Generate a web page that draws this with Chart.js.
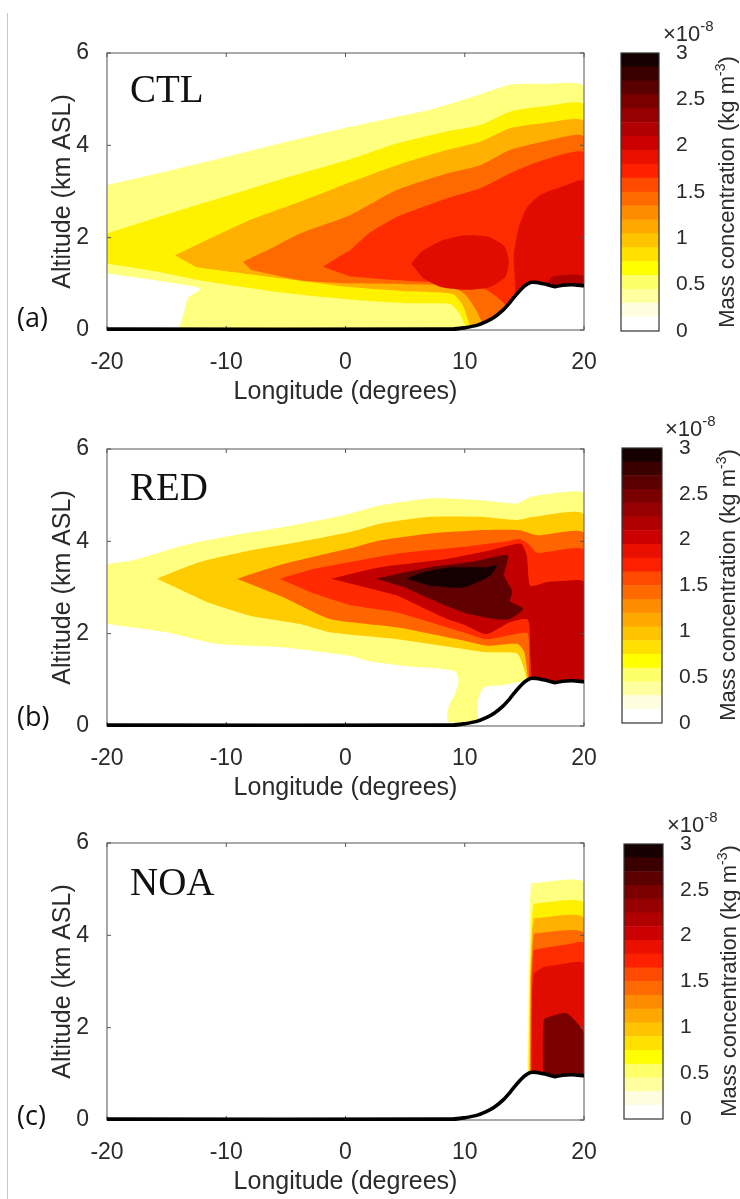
<!DOCTYPE html>
<html>
<head>
<meta charset="utf-8">
<script src="https://cdn.jsdelivr.net/npm/chart.js@4.4.1/dist/chart.umd.min.js"></script>
<style>
html,body{margin:0;padding:0;background:#fff;}
body{width:740px;height:1199px;position:relative;overflow:hidden;font-family:"Liberation Sans",Arial,sans-serif;color:#2b2b2b;}
canvas{position:absolute;}
#vline{position:absolute;left:7px;top:13px;width:1px;height:1186px;background:#c8c8c8;}
.plab{position:absolute;left:17px;font-family:"Open Sans",sans-serif;font-size:27px;line-height:27px;color:#111;}
.name{position:absolute;left:130px;font-family:"Liberation Serif","Times New Roman",serif;font-size:39px;line-height:39px;color:#111;}
.exp{position:absolute;font-size:22px;line-height:22px;white-space:nowrap;color:#2b2b2b;}
.exp sup{font-size:15px;line-height:0;vertical-align:10px;}
.cbt{position:absolute;width:300px;height:26px;line-height:26px;text-align:center;font-size:22px;white-space:nowrap;transform:rotate(-90deg);transform-origin:150px 13px;color:#2b2b2b;}
.cbt sup{font-size:14px;line-height:0;vertical-align:9px;}
</style>
</head>
<body>
<div id="vline"></div>

<canvas id="pa" width="600" height="420" style="left:0;top:0"></canvas>
<canvas id="pb" width="600" height="420" style="left:0;top:396px"></canvas>
<canvas id="pc" width="600" height="420" style="left:0;top:790px"></canvas>
<canvas id="ca" width="140" height="420" style="left:600px;top:0"></canvas>
<canvas id="cb" width="140" height="420" style="left:600px;top:395px"></canvas>
<canvas id="cc" width="140" height="420" style="left:600px;top:791px"></canvas>

<div class="plab" style="top:303px">(a)</div>
<div class="plab" style="top:702px">(b)</div>
<div class="plab" style="top:1101px">(c)</div>
<div class="name" style="top:69px">CTL</div>
<div class="name" style="top:467px">RED</div>
<div class="name" style="top:862px">NOA</div>
<div class="exp" style="left:663px;top:23px">×10<sup>-8</sup></div>
<div class="exp" style="left:665px;top:418px">×10<sup>-8</sup></div>
<div class="exp" style="left:667px;top:814px">×10<sup>-8</sup></div>
<div class="cbt" style="left:577px;top:179px">Mass concentration (kg m<sup>-3</sup>)</div>
<div class="cbt" style="left:578px;top:572px">Mass concentration (kg m<sup>-3</sup>)</div>
<div class="cbt" style="left:579px;top:968px">Mass concentration (kg m<sup>-3</sup>)</div>

<script>
// ---------- axes / tick labels ----------
const xTicks = [-20, -10, 0, 10, 20];
const yTicks = [0, 2, 4, 6];
const cbTicks = [0, 0.5, 1, 1.5, 2, 2.5, 3];
const cbTickLabels = ['0', '0.5', '1', '1.5', '2', '2.5', '3'];
const cbBounds = [0, 0.15, 0.3, 0.45, 0.6, 0.75, 0.9, 1.05, 1.2, 1.35, 1.5, 1.65, 1.8, 1.95, 2.1, 2.25, 2.4, 2.55, 2.7, 2.85, 3];
const cbColors = ['#ffffff','#fffde0','#ffffa0','#ffff6a','#ffff00','#ffe000','#ffc400','#ffa800','#ff8c00','#ff6a00',
                  '#ff4a00','#ff2000','#ea1000','#cc0000','#b00000','#960000','#7a0000','#5a0000','#3a0000','#160000'];

// ---------- terrain ----------
const terrainLon = [-20, 9, 10, 11, 11.8, 12.5, 13.2, 13.8, 14.4, 15, 15.5, 16, 16.6, 17.1, 17.6, 18.2, 19, 20];
const terrainAlt = [0.02, 0.02, 0.05, 0.1, 0.18, 0.28, 0.43, 0.6, 0.79, 0.95, 1.03, 1.03, 1.0, 0.97, 0.94, 0.97, 0.98, 0.96];

// ---------- CTL contour regions [longitude, altitude] ----------
const ctl1 = [[-20,3.14],[-15,3.44],[-10,3.75],[-5,4.07],[0.4,4.40],[4.3,4.62],[7.1,4.77],[10.7,5.05],[13.8,5.31],[16.6,5.33],[20,5.27],[20,0],[-13.8,0],[-13.5,0.43],[-13.2,0.7],[-12.2,0.87],[-12.4,0.93],[-16,1.08],[-20,1.23]];
const ctl2 = [[-20,2.09],[-15,2.5],[-10,2.9],[-5,3.3],[0.4,3.7],[4.3,4.04],[8.5,4.30],[11.3,4.44],[13.8,4.73],[16.6,4.84],[20,4.87],[20,0],[10.3,0],[10.0,0.12],[9.5,0.38],[8.8,0.56],[5,0.58],[0.4,0.66],[-5,0.8],[-12.3,1.08],[-16,1.27],[-20,1.44]];
const ctl3 = [[-14.3,1.62],[-12,1.9],[-8,2.38],[-4,2.76],[0.4,3.2],[4.3,3.57],[8.5,3.9],[11.3,4.08],[13.8,4.37],[16.6,4.48],[20,4.51],[20,0],[10.6,0],[10.3,0.2],[9.8,0.55],[9.0,0.78],[5,0.84],[0.4,0.93],[-6.6,1.16],[-12.5,1.36]];
const ctl4 = [[-8.6,1.48],[-6,1.8],[-3.8,2.09],[0.4,2.49],[4.3,3.03],[8.5,3.39],[11.3,3.57],[13.8,3.9],[16.6,4.08],[20,4.18],[20,0],[11.8,0],[11.5,0.15],[10.8,0.5],[10,0.78],[8.8,0.95],[5,0.99],[0.4,1.01],[-3.8,1.08],[-7.9,1.30]];
const ctl5 = [[-1.9,1.37],[-0.5,1.6],[0.4,1.73],[2,2.1],[4.3,2.45],[8.5,2.85],[11.3,3.07],[13.8,3.39],[16.6,3.68],[20,3.83],[20,0],[13.6,0],[13.5,0.5],[13.0,0.65],[11.8,0.87],[9.9,1.0],[4.3,1.08],[0.4,1.16]];
const ctl6a = [[5.5,1.44],[6.5,1.72],[8,1.93],[10,2.05],[12,2.02],[13.3,1.82],[13.7,1.5],[13.4,1.15],[12,0.92],[10,0.87],[8,0.93],[6.5,1.12]];
const ctl6b = [[14.3,0.5],[14.2,1.15],[14.1,1.6],[14.5,2.2],[15.2,2.65],[16.3,2.92],[18.3,3.12],[20,3.23],[20,0],[14.3,0]];
const ctl7 = [[16.9,0.95],[17.3,1.15],[19,1.2],[20,1.17],[20,0.9],[16.9,0.9]];
const ctlBands = [ctl1, ctl2, ctl3, ctl4, ctl5, ctl6a, ctl6b, ctl7];
const ctlColors = ['#ffff80','#fff200','#ffb000','#ff6a00','#ff2c00','#e00c00','#e00c00','#b00000'];

// ---------- RED contour regions ----------
const red1 = [[-20,3.51],[-17.8,3.59],[-13.6,3.91],[-9.4,4.13],[-5.2,4.31],[0.4,4.6],[2.9,4.78],[7.1,4.93],[11.3,4.89],[14.4,4.82],[15.5,4.96],[16.9,5.02],[20,5.02],[20,0.5],[15.0,0.5],[14.8,0.95],[13.2,0.88],[11.6,0.84],[11.2,0.65],[11.0,0.35],[11.1,0.08],[8.7,0.08],[8.5,0.2],[8.7,0.45],[9.2,0.7],[9.5,1.0],[9.2,1.18],[8,1.24],[5,1.3],[2,1.4],[0.4,1.52],[-5.2,1.70],[-10.8,1.78],[-15,2.03],[-20,2.21]];
const red2 = [[-15.8,3.19],[-12.2,3.55],[-8.0,3.80],[-3.8,3.99],[0.4,4.2],[2.9,4.38],[7.1,4.53],[11.3,4.53],[14.4,4.46],[15.8,4.53],[20,4.57],[20,0.5],[15.2,0.5],[15.2,1.0],[14.9,1.3],[14.4,1.57],[11.8,1.6],[9.9,1.67],[4.3,1.88],[-1.3,2.03],[-3.8,2.21],[-8.0,2.39],[-11.6,2.68]];
const red3 = [[-9.1,3.19],[-5.2,3.51],[0.4,3.85],[2.9,4.02],[7.1,4.17],[11.3,4.24],[14.6,4.24],[16.1,4.13],[20,4.17],[20,0.5],[15.3,0.5],[15.3,1.0],[15.0,1.6],[14.4,1.78],[11.8,1.74],[9.9,1.85],[4.3,2.14],[-1.3,2.32],[-5.2,2.79]];
const red4 = [[-5.5,3.19],[-3,3.38],[0.4,3.55],[4.3,3.73],[9.9,3.88],[13.3,3.99],[14.6,4.05],[15.3,3.95],[16.1,3.75],[20,3.80],[20,0.5],[15.4,0.5],[15.4,1.0],[15.3,2.0],[14.4,2.0],[11.8,1.88],[9.9,2.03],[4.3,2.46],[0.4,2.62],[-3,2.9]];
const red5 = [[-1.2,3.19],[2.9,3.44],[8.5,3.62],[12.1,3.80],[14.7,3.95],[15.2,3.70],[15.5,3.04],[16.9,3.12],[18.3,3.14],[20,3.12],[20,0.5],[15.6,0.5],[15.6,1.0],[15.5,1.5],[15.3,2.3],[13.8,2.25],[11.8,1.99],[9.9,2.2],[8.5,2.32],[4.3,2.83]];
const red6 = [[2.6,3.19],[5,3.33],[7.1,3.44],[10.5,3.55],[13.6,3.70],[13.3,3.26],[14.0,2.92],[13.8,2.7],[14.9,2.54],[13.8,2.32],[12.4,2.32],[9.9,2.46],[7.1,2.75],[5,3.0]];
const red7 = [[5.1,3.19],[6.5,3.33],[8.5,3.43],[11.8,3.44],[12.7,3.48],[12.1,3.25],[9.9,3.0],[7.1,3.04]];
const redBands = [red1, red2, red3, red4, red5, red6, red7];
const redColors = ['#ffff80','#ffcc00','#ff6600','#ff2a00','#c20000','#600000','#140000'];

// ---------- NOA contour regions ----------
const noa1 = [[15.55,5.13],[20,5.13],[20,0.5],[15.25,0.5],[15.25,1.08],[15.35,3.0],[15.45,4.6]];
const noa2 = [[15.75,4.69],[20,4.69],[20,0.5],[15.35,0.5],[15.35,1.08],[15.45,3.0],[15.6,4.3]];
const noa3 = [[15.8,4.37],[20,4.37],[20,0.5],[15.45,0.5],[15.45,1.08],[15.5,3.0],[15.65,4.1]];
const noa4 = [[15.8,4.04],[20,4.04],[20,0.5],[15.5,0.5],[15.5,1.08],[15.55,3.0],[15.7,3.8]];
const noa5 = [[15.75,3.68],[17,3.74],[18.5,3.8],[20,3.83],[20,0.5],[15.55,0.5],[15.55,1.08],[15.6,3.0]];
const noa6 = [[15.8,3.18],[16.5,3.3],[17.5,3.35],[20,3.39],[20,0.5],[15.6,0.5],[15.6,1.08],[15.65,2.8]];
const noa7 = [[16.6,0.9],[16.55,1.5],[16.65,2.18],[17.15,2.24],[18.55,2.31],[20,1.88],[20,0.9]];
const noaBands = [noa1, noa2, noa3, noa4, noa5, noa6, noa7];
const noaColors = ['#ffff80','#fff000','#ffb000','#ff6a00','#ff2c00','#e00c00','#7a0000'];

// ---------- styling ----------
const FONT = '"Liberation Sans", Arial, sans-serif';
const TXT = '#2b2b2b';

const framePlugin = {
  id: 'frame',
  beforeDatasetDraw(chart, args, opts) {
    if (!opts.plot || args.index !== 0) return;
    drawFrame(chart, opts);
  },
  afterDatasetsDraw(chart, args, opts) {
    if (opts.plot) return;
    drawFrame(chart, opts);
  }
};
function drawFrame(chart, opts) {
  const {ctx, chartArea: a, scales} = chart;
  ctx.save();
  ctx.strokeStyle = opts.color;
  ctx.lineWidth = opts.width;
  ctx.strokeRect(a.left, a.top, a.right - a.left, a.bottom - a.top);
  if (opts.plot) {
    ctx.beginPath();
    for (const v of xTicks) {
      const px = scales.x.getPixelForValue(v);
      ctx.moveTo(px, a.top); ctx.lineTo(px, a.top + 4);
      ctx.moveTo(px, a.bottom); ctx.lineTo(px, a.bottom - 4);
    }
    for (const v of yTicks) {
      const py = scales.y.getPixelForValue(v);
      ctx.moveTo(a.left, py); ctx.lineTo(a.left + 4, py);
      ctx.moveTo(a.right, py); ctx.lineTo(a.right - 4, py);
    }
    ctx.stroke();
  }
  ctx.restore();
}
function noPad(s) { s.paddingLeft = 0; s.paddingRight = 0; s.paddingTop = 0; s.paddingBottom = 0; }

function makePanel(id, bands, colors) {
  const datasets = [{
    data: terrainLon.map((x, i) => ({x, y: terrainAlt[i]})),
    borderColor: '#000', borderWidth: 3.6, backgroundColor: '#ffffff',
    fill: 'origin', tension: 0.3, pointRadius: 0, clip: 4
  }];
  for (let i = bands.length - 1; i >= 0; i--) {
    datasets.push({
      data: bands[i].map(p => ({x: p[0], y: p[1]})),
      backgroundColor: colors[i], borderColor: 'rgba(0,0,0,0)', borderWidth: 0,
      fill: 'shape', tension: 0.2, pointRadius: 0
    });
  }
  new Chart(document.getElementById(id), {
    type: 'line',
    data: {datasets},
    plugins: [framePlugin],
    options: {
      animation: false, responsive: false, events: [],
      layout: {padding: {left: 0, top: 53, right: 16, bottom: 0}},
      plugins: {legend: {display: false}, tooltip: {enabled: false},
                frame: {plot: true, color: '#555', width: 1}},
      scales: {
        x: {
          type: 'linear', min: -20, max: 20,
          afterBuildTicks: s => { s.ticks = xTicks.map(v => ({value: v})); },
          afterFit: s => { s.height = 90; noPad(s); },
          grid: {display: false}, border: {display: false},
          ticks: {font: {family: FONT, size: 23}, color: TXT, padding: 11, maxRotation: 0, autoSkip: false},
          title: {display: true, text: 'Longitude (degrees)', font: {family: FONT, size: 25}, color: TXT, padding: {top: 0, bottom: 13}}
        },
        y: {
          type: 'linear', min: 0, max: 6,
          afterBuildTicks: s => { s.ticks = yTicks.map(v => ({value: v})); },
          afterFit: s => { s.width = 107; noPad(s); },
          grid: {display: false}, border: {display: false},
          ticks: {font: {family: FONT, size: 23}, color: TXT, padding: 10, autoSkip: false},
          title: {display: true, text: 'Altitude (km ASL)', font: {family: FONT, size: 25}, color: TXT, padding: {top: 48, bottom: 0}}
        }
      }
    }
  });
}

function makeColorbar(id, l, r, t, b) {
  const datasets = cbColors.map((c, i) => ({
    data: [[cbBounds[i], cbBounds[i + 1]]],
    backgroundColor: c, borderWidth: 0, barPercentage: 1, categoryPercentage: 1, grouped: false
  }));
  new Chart(document.getElementById(id), {
    type: 'bar',
    data: {labels: ['c'], datasets},
    plugins: [framePlugin],
    options: {
      animation: false, responsive: false, events: [],
      layout: {padding: {left: l - 600, top: 53, right: 0, bottom: 420 - 53 - (b - t)}},
      plugins: {legend: {display: false}, tooltip: {enabled: false},
                frame: {plot: false, color: '#333', width: 1.2}},
      scales: {
        x: {display: false},
        y: {
          position: 'right', min: 0, max: 3,
          afterBuildTicks: s => { s.ticks = cbTicks.map(v => ({value: v})); },
          afterFit: s => { s.width = 740 - r; noPad(s); },
          grid: {display: false}, border: {display: false},
          ticks: {font: {family: FONT, size: 21}, color: TXT, padding: 9, autoSkip: false,
                  callback: (v, i) => cbTickLabels[cbTicks.indexOf(v)]}
        }
      }
    }
  });
}

makePanel('pa', ctlBands, ctlColors);
makePanel('pb', redBands, redColors);
makePanel('pc', noaBands, noaColors);
makeColorbar('ca', 621, 659, 53, 331);
makeColorbar('cb', 622, 662, 448, 723);
makeColorbar('cc', 624, 663, 844, 1119);
</script>
</body>
</html>
